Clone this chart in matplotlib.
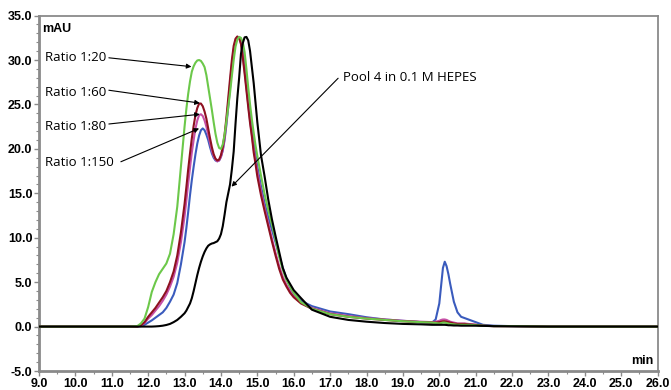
import matplotlib
matplotlib.use("Agg")
import matplotlib.pyplot as plt
from matplotlib.ticker import MultipleLocator, FormatStrFormatter

# ---------------- data ----------------
time_min = [9.0, 10.0, 11.0, 11.5, 11.7, 11.8, 11.9, 12.0, 12.1, 12.2, 12.3, 12.4, 12.5, 12.6, 12.7, 12.8, 12.9,
            13.00, 13.05, 13.10, 13.15, 13.20, 13.25, 13.30, 13.35, 13.40, 13.45, 13.50, 13.55, 13.60, 13.65,
            13.70, 13.75, 13.80, 13.85, 13.90, 13.95, 14.00, 14.05, 14.10, 14.15, 14.20, 14.25, 14.30, 14.35,
            14.40, 14.45, 14.50, 14.55, 14.60, 14.65, 14.70, 14.75, 14.80, 14.85, 14.90, 14.95, 15.00,
            15.1, 15.2, 15.3, 15.4, 15.5, 15.6, 15.7, 15.8, 15.9, 16.0, 16.2, 16.5, 17.0, 17.5, 18.0, 18.5,
            19.0, 19.5, 19.8, 19.9, 20.0, 20.05, 20.1, 20.15, 20.2, 20.25, 20.3, 20.4, 20.5, 20.6, 20.7, 20.8,
            21.0, 21.2, 21.5, 22.0, 23.0, 24.0, 25.0, 26.0]

ratio_1_20 = [0, 0, 0, 0, 0.05, 0.35, 0.9, 2.2, 3.9, 5.0, 5.9, 6.5, 7.1, 8.2, 10.4, 13.5, 18.0,
              22.5, 24.5, 26.2, 27.6, 28.7, 29.3, 29.7, 29.95, 30.0, 29.9, 29.6, 29.2, 28.3, 27.0,
              25.7, 24.4, 23.0, 21.7, 20.7, 20.1, 20.0, 20.5, 21.6, 23.1, 24.7, 26.3, 28.2, 30.0,
              31.5, 32.3, 32.6, 32.5, 32.0, 30.9, 29.0, 26.9, 25.0, 23.3, 21.8, 20.4, 19.2,
              17.0, 14.9, 13.1, 11.5, 9.8, 7.9, 6.4, 5.25, 4.5, 3.8, 2.75, 2.0, 1.4, 1.1, 0.9, 0.75,
              0.6, 0.5, 0.45, 0.4, 0.35, 0.4, 0.45, 0.45, 0.4, 0.35, 0.3, 0.25, 0.2, 0.2, 0.2, 0.2,
              0.15, 0.1, 0.05, 0.05, 0, 0, 0, 0]

ratio_1_60 = [0, 0, 0, 0, 0, 0.15, 0.5, 1.1, 1.6, 2.1, 2.7, 3.3, 4.0, 5.0, 6.2, 8.0, 10.6,
              13.8, 15.7, 17.7, 19.5, 21.2, 22.6, 23.8, 24.6, 25.1, 25.1, 24.8, 24.2, 23.4, 22.3,
              21.2, 20.2, 19.4, 18.9, 18.7, 18.8, 19.3, 20.2, 21.6, 23.5, 25.7, 27.9, 30.0, 31.6,
              32.4, 32.65, 32.5, 31.8, 30.3, 28.5, 26.6, 24.7, 22.9, 21.4, 19.6, 18.3, 16.9,
              14.8, 13.0, 11.3, 9.6, 8.0, 6.5, 5.3, 4.5, 3.8, 3.3, 2.6, 2.0, 1.4, 1.1, 0.9, 0.75,
              0.6, 0.5, 0.45, 0.45, 0.5, 0.55, 0.6, 0.6, 0.55, 0.5, 0.45, 0.35, 0.3, 0.3, 0.3, 0.25,
              0.2, 0.1, 0.05, 0.05, 0, 0, 0, 0]

ratio_1_80 = [0, 0, 0, 0, 0, 0.1, 0.4, 0.9, 1.3, 1.8, 2.3, 2.9, 3.6, 4.5, 5.6, 7.2, 9.5,
              12.4, 14.2, 16.1, 17.9, 19.6, 21.0, 22.3, 23.2, 23.8, 23.9, 23.7, 23.2, 22.5, 21.6,
              20.7, 19.8, 19.2, 18.8, 18.6, 18.7, 19.1, 19.9, 21.2, 23.0, 25.1, 27.3, 29.5, 31.2,
              32.2, 32.6, 32.5, 31.9, 30.6, 28.8, 26.9, 25.0, 23.2, 21.6, 20.0, 18.7, 17.4,
              15.2, 13.3, 11.6, 9.9, 8.3, 6.8, 5.6, 4.7, 4.0, 3.4, 2.7, 2.1, 1.5, 1.2, 0.95, 0.8,
              0.65, 0.55, 0.5, 0.55, 0.65, 0.75, 0.8, 0.8, 0.75, 0.65, 0.55, 0.45, 0.35, 0.35, 0.35, 0.3,
              0.2, 0.1, 0.05, 0.05, 0, 0, 0, 0]

ratio_1_150 = [0, 0, 0, 0, 0, 0.05, 0.2, 0.45, 0.7, 1.0, 1.3, 1.6, 2.1, 2.8, 3.6, 4.9, 7.0,
               9.5, 11.1, 12.9, 14.8, 16.5, 18.0, 19.4, 20.6, 21.5, 22.1, 22.3, 22.1, 21.6, 21.0,
               20.2, 19.5, 19.0, 18.7, 18.6, 18.7, 19.1, 19.8, 21.0, 22.7, 24.7, 26.9, 29.0, 30.8,
               32.0, 32.5, 32.6, 32.1, 31.0, 29.3, 27.4, 25.5, 23.7, 22.1, 20.6, 19.3, 18.0,
               15.8, 13.9, 12.3, 10.9, 9.5, 8.0, 6.6, 5.4, 4.4, 3.7, 2.9, 2.3, 1.7, 1.4, 1.05, 0.8,
               0.65, 0.5, 0.45, 0.8, 2.6, 4.6, 6.6, 7.3, 6.8, 5.9, 4.8, 2.8, 1.6, 1.1, 0.95, 0.8,
               0.5, 0.2, 0.1, 0.05, 0, 0, 0, 0]

pool4_hepes = [0, 0, 0, 0, 0, 0, 0, 0, 0, 0.02, 0.05, 0.1, 0.18, 0.3, 0.5, 0.75, 1.1,
               1.5, 1.8, 2.2, 2.6, 3.2, 4.0, 4.9, 5.8, 6.6, 7.3, 7.9, 8.4, 8.8, 9.1,
               9.25, 9.35, 9.4, 9.5, 9.6, 9.9, 10.4, 11.3, 12.6, 14.0, 15.0, 16.0, 17.7, 19.7,
               22.8, 25.7, 28.0, 30.7, 31.9, 32.55, 32.6, 32.2, 31.0, 29.2, 27.4, 25.2, 23.0,
               19.3, 16.9, 14.3, 12.1, 10.2, 8.4, 6.6, 5.5, 4.8, 4.1, 3.2, 1.9, 1.1, 0.75, 0.55, 0.4,
               0.3, 0.25, 0.2, 0.2, 0.2, 0.2, 0.2, 0.2, 0.18, 0.15, 0.15, 0.12, 0.12, 0.1, 0.1, 0.1,
               0.1, 0.08, 0.05, 0.03, 0, 0, 0, 0]

series_names = ["Ratio 1:150", "Ratio 1:80", "Ratio 1:60", "Ratio 1:20", "Pool 4 in 0.1 M HEPES"]
series_values = [ratio_1_150, ratio_1_80, ratio_1_60, ratio_1_20, pool4_hepes]
series_colors = ["#3a5bbd", "#c64fa6", "#8e1020", "#6cc84a", "#000000"]

# annotations: label, text position (t, mAU), arrow start, arrow tip
label_texts = ["Ratio 1:20", "Ratio 1:60", "Ratio 1:80", "Ratio 1:150"]
label_pos = [(9.17, 30.25), (9.17, 26.3), (9.17, 22.5), (9.17, 18.5)]
arrow_start = [(10.92, 30.25), (10.92, 26.6), (10.92, 22.8), (11.25, 18.55)]
arrow_tip = [(13.19, 29.25), (13.42, 25.15), (13.42, 23.9), (13.40, 22.3)]
pool_text_pos = (17.35, 28.0)
pool_arrow_start = (17.22, 27.95)
pool_arrow_tip = (14.29, 15.75)

x_ticks = [9.0 + i for i in range(18)]
y_ticks = [-5.0, 0.0, 5.0, 10.0, 15.0, 20.0, 25.0, 30.0, 35.0]

# ---------------- figure ----------------
fig = plt.figure(figsize=(6.71, 3.90), dpi=100)
ax = fig.add_axes([0.0581, 0.0487, 0.9220, 0.9113])

for vals, col in zip(series_values, series_colors):
    ax.plot(time_min, vals, color=col, lw=1.5, solid_joinstyle="round", zorder=3)

ax.set_xlim(9.0, 26.0)
ax.set_ylim(-5.0, 35.0)
ax.set_xticks(x_ticks)
ax.set_yticks(y_ticks)
ax.xaxis.set_minor_locator(MultipleLocator(0.5))
ax.yaxis.set_minor_locator(MultipleLocator(1.0))
ax.xaxis.set_major_formatter(FormatStrFormatter("%.1f"))
ax.yaxis.set_major_formatter(FormatStrFormatter("%.1f"))

tick_font = dict(family="Liberation Sans", weight="bold", size=9)
for lab in ax.get_xticklabels() + ax.get_yticklabels():
    lab.set_fontfamily("Liberation Sans")
    lab.set_fontweight("bold")
    lab.set_fontsize(9)

ax.tick_params(axis="both", which="major", length=3.5, width=1.0, color="#8a8a8a", pad=1.2)
ax.tick_params(axis="both", which="minor", length=2, width=0.8, color="#8a8a8a")

for s in ax.spines.values():
    s.set_color("#8a8a8a")
    s.set_linewidth(1.3)
ax.spines["left"].set_linewidth(2.0)
ax.spines["bottom"].set_linewidth(2.0)

ax.text(0.005, 0.963, "mAU", transform=ax.transAxes, ha="left", va="center", **tick_font)
ax.text(0.993, 0.028, "min", transform=ax.transAxes, ha="right", va="center", **tick_font)

label_font = dict(family="Open Sans", size=9.5)
for txt, pos, a0, a1 in zip(label_texts, label_pos, arrow_start, arrow_tip):
    ax.text(pos[0], pos[1], txt, ha="left", va="center", **label_font)
    ax.annotate("", xy=a1, xytext=a0,
                arrowprops=dict(arrowstyle="-|>", lw=0.8, color="black",
                                mutation_scale=7, shrinkA=0, shrinkB=0), zorder=5)

ax.text(pool_text_pos[0], pool_text_pos[1], "Pool 4 in 0.1 M HEPES", ha="left", va="center", **label_font)
ax.annotate("", xy=pool_arrow_tip, xytext=pool_arrow_start,
            arrowprops=dict(arrowstyle="-|>", lw=0.8, color="black",
                            mutation_scale=7, shrinkA=0, shrinkB=0), zorder=5)

fig.savefig("out.png", dpi=100)
